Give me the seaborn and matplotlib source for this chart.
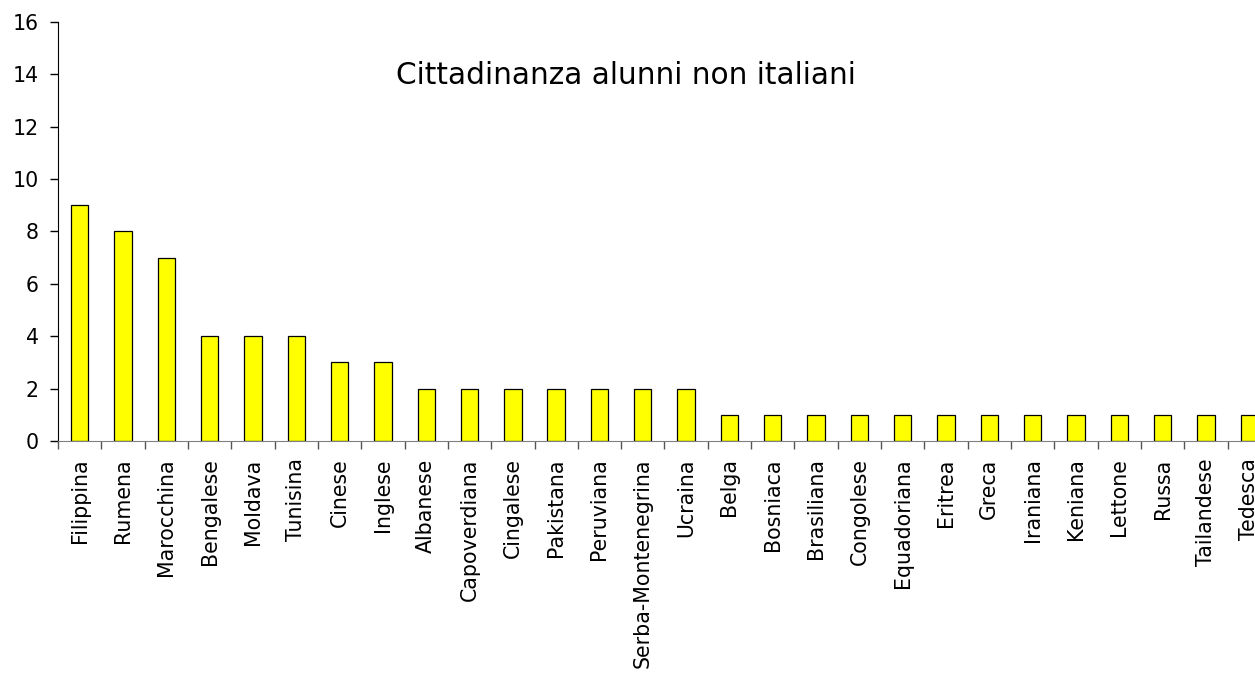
import numpy as np
import pandas as pd
import matplotlib.pyplot as plt
import seaborn as sns
from matplotlib.ticker import MultipleLocator, FixedLocator

# nationalities of non-Italian pupils
nazionalita = ["Filippina", "Rumena", "Marocchina", "Bengalese", "Moldava", "Tunisina",
               "Cinese", "Inglese", "Albanese", "Capoverdiana", "Cingalese", "Pakistana",
               "Peruviana", "Serba-Montenegrina", "Ucraina", "Belga", "Bosniaca",
               "Brasiliana", "Congolese", "Equadoriana", "Eritrea", "Greca", "Iraniana",
               "Keniana", "Lettone", "Russa", "Tailandese", "Tedesca"]
alunni = [9, 8, 7, 4, 4, 4, 3, 3, 2, 2, 2, 2, 2, 2, 2,
          1, 1, 1, 1, 1, 1, 1, 1, 1, 1, 1, 1, 1]

df = pd.DataFrame({"Nazionalita": nazionalita, "Alunni": alunni})

sns.set_style("white")
plt.rcParams['font.family'] = ['DejaVu Sans']

fig = plt.figure(figsize=(12.55, 6.77), dpi=100)
# plot area runs a little past the right edge, like the original
ax = fig.add_axes([0.0462, 0.3486, 0.9665, 0.619])

sns.barplot(data=df, x="Nazionalita", y="Alunni", color="#ffff00",
            edgecolor="black", linewidth=0.9, width=0.4, saturation=1, ax=ax)

ax.set_xlim(-0.5, len(nazionalita) - 0.5)
ax.set_ylim(0, 16)
ax.yaxis.set_major_locator(MultipleLocator(2))

ax.set_xlabel("")
ax.set_ylabel("")
ax.tick_params(axis="x", which="major", bottom=False, rotation=90, labelsize=14.8,
               pad=9, labelcolor="black")
ax.tick_params(axis="y", left=True, length=6, width=1, color="black", labelsize=14.8,
               pad=8, direction="out", labelcolor="black")
# category separators
ax.xaxis.set_minor_locator(FixedLocator(np.arange(-0.5, len(nazionalita), 1)))
ax.tick_params(axis="x", which="minor", bottom=True, length=6, width=1,
               color="#555555", direction="out")

for s in ["top", "right"]:
    ax.spines[s].set_visible(False)
ax.spines["left"].set_color("black")
ax.spines["bottom"].set_color("#808080")

ax.text(0.468, 0.873, "Cittadinanza alunni non italiani", transform=ax.transAxes,
        ha="center", va="center", fontsize=21.3, color="black")

fig.savefig("out.png", dpi=100)
